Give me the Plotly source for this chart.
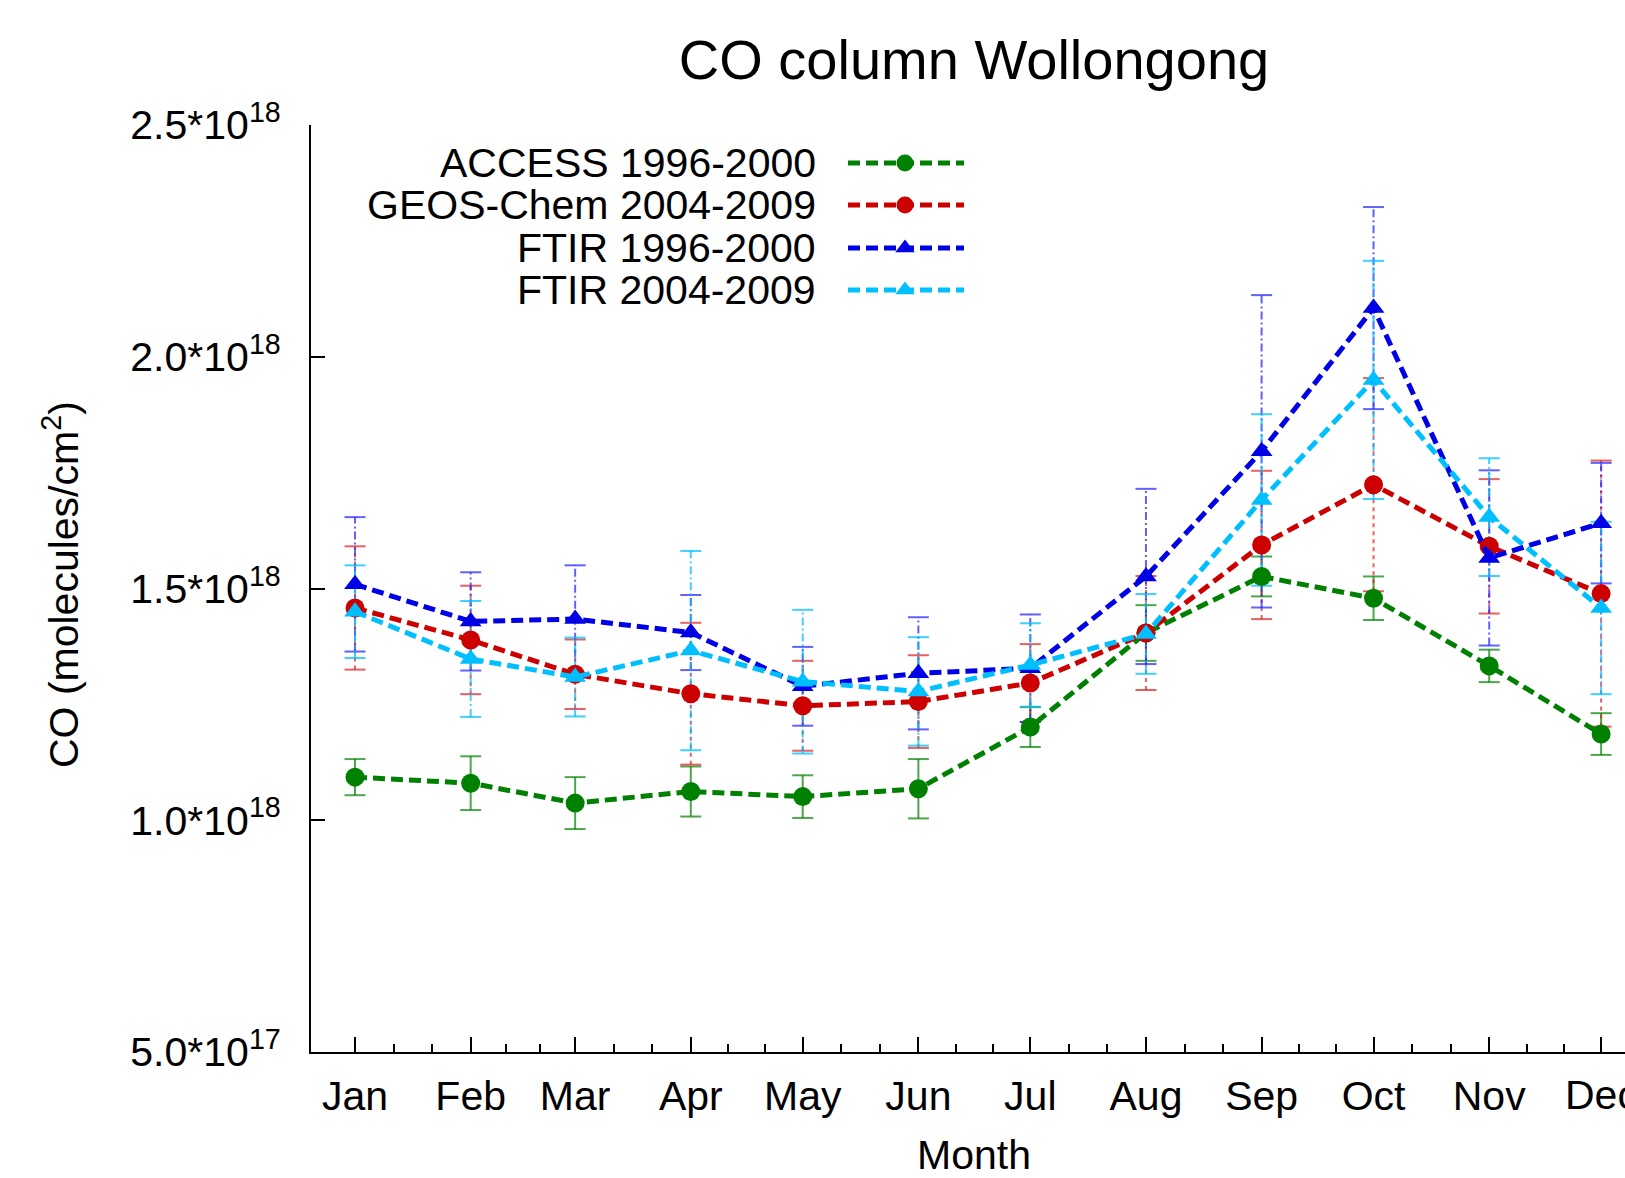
import plotly.graph_objects as go

# ---------------- data (values in 1e18 molecules/cm^2) ----------------
months = ["Jan", "Feb", "Mar", "Apr", "May", "Jun", "Jul", "Aug", "Sep", "Oct", "Nov", "Dec"]
days = [15, 46, 74, 105, 135, 166, 196, 227, 258, 288, 319, 349]

access = [1.093, 1.080, 1.037, 1.062, 1.051, 1.068, 1.201, 1.404, 1.526, 1.479, 1.333, 1.186]
access_err = [0.039, 0.058, 0.056, 0.054, 0.046, 0.064, 0.043, 0.060, 0.043, 0.047, 0.035, 0.045]

geos = [1.458, 1.389, 1.315, 1.273, 1.247, 1.256, 1.296, 1.404, 1.594, 1.724, 1.591, 1.489]
geos_err = [0.133, 0.117, 0.075, 0.153, 0.097, 0.100, 0.084, 0.123, 0.160, 0.230, 0.145, 0.287]

ftir96 = [1.509, 1.429, 1.434, 1.405, 1.289, 1.317, 1.328, 1.526, 1.796, 2.105, 1.566, 1.641]
ftir96_err = [0.145, 0.106, 0.116, 0.081, 0.085, 0.121, 0.116, 0.189, 0.337, 0.218, 0.189, 0.130]

ftir04 = [1.450, 1.348, 1.309, 1.366, 1.299, 1.278, 1.335, 1.402, 1.691, 1.950, 1.654, 1.458]
ftir04_err = [0.100, 0.125, 0.085, 0.215, 0.155, 0.117, 0.090, 0.086, 0.185, 0.257, 0.127, 0.186]

ytick_vals = [0.5, 1.0, 1.5, 2.0, 2.5]
ytick_text = ["5.0*10<sup>17</sup>", "1.0*10<sup>18</sup>", "1.5*10<sup>18</sup>",
              "2.0*10<sup>18</sup>", "2.5*10<sup>18</sup>"]

SCALE = 1e18
FONT = "Liberation Sans, Arial, Helvetica, sans-serif"

series = [
    dict(name="ACCESS 1996-2000", y=access, e=access_err, color="rgb(0,128,0)",
         ecolor="rgba(0,128,0,0.7)", edash="solid", symbol="circle", size=19),
    dict(name="GEOS-Chem 2004-2009", y=geos, e=geos_err, color="rgb(204,0,0)",
         ecolor="rgba(220,30,30,0.7)", edash="4px,4px", symbol="circle", size=19),
    dict(name="FTIR 1996-2000", y=ftir96, e=ftir96_err, color="rgb(0,0,230)",
         ecolor="rgba(30,30,255,0.7)", edash="8px,3px,2px,3px", symbol="triangle-up", size=19),
    dict(name="FTIR 2004-2009", y=ftir04, e=ftir04_err, color="rgb(0,191,255)",
         ecolor="rgba(0,191,255,0.75)", edash="8px,3px,2px,3px", symbol="triangle-up", size=19),
]

fig = go.Figure()

# error bars (vertical dashed segments + caps)
for s in series:
    xs, ys = [], []
    caps_x, caps_y = [], []
    for d, v, e in zip(days, s["y"], s["e"]):
        xs += [d, d, None]
        ys += [(v - e) * SCALE, (v + e) * SCALE, None]
        caps_x += [d, d]
        caps_y += [(v - e) * SCALE, (v + e) * SCALE]
    fig.add_trace(go.Scatter(x=xs, y=ys, mode="lines", showlegend=False, hoverinfo="skip",
                             line=dict(color=s["ecolor"], width=2, dash=s["edash"])))
    fig.add_trace(go.Scatter(x=caps_x, y=caps_y, mode="markers", showlegend=False, hoverinfo="skip",
                             cliponaxis=False,
                             marker=dict(symbol="line-ew", size=15,
                                         line=dict(color=s["ecolor"], width=2))))

# main lines
for s in series:
    fig.add_trace(go.Scatter(x=days, y=[v * SCALE for v in s["y"]], mode="lines+markers",
                             name=s["name"], showlegend=False, cliponaxis=False,
                             line=dict(color=s["color"], width=5, dash="12px,6px"),
                             marker=dict(symbol=s["symbol"], size=s["size"], color=s["color"])))

# manual legend (text right-aligned, sample to the right) on a pixel overlay axis
PL, PR, PT, PB = 311, 1625, 125, 1052
leg_rows = [163, 205, 248, 290]
leg_text_right = 818
leg_line = (848, 964)
leg_marker_x = 905
for s, ry in zip(series, leg_rows):
    fig.add_trace(go.Scatter(x=list(leg_line), y=[ry, ry], mode="lines", xaxis="x2", yaxis="y2",
                             showlegend=False, hoverinfo="skip",
                             line=dict(color=s["color"], width=5, dash="12px,6px")))
    fig.add_trace(go.Scatter(x=[leg_marker_x], y=[ry], mode="markers", xaxis="x2", yaxis="y2",
                             showlegend=False, hoverinfo="skip", cliponaxis=False,
                             marker=dict(symbol=s["symbol"], size=s["size"] - 2, color=s["color"])))
    fig.add_annotation(x=leg_text_right, y=ry, xref="x2", yref="y2", text=s["name"],
                       showarrow=False, xanchor="right", yanchor="middle",
                       font=dict(size=41, color="black", family=FONT))

# minor ticks at thirds between month ticks
minor_vals = []
for a, b in zip(days[:-1], days[1:]):
    minor_vals += [a + (b - a) / 3, a + 2 * (b - a) / 3]

W, H = 1625, 1178
fig.update_layout(
    template="none",
    width=W, height=H,
    margin=dict(l=PL, r=W - PR, t=PT, b=H - PB, pad=0),
    paper_bgcolor="white", plot_bgcolor="white",
    font=dict(family=FONT, size=41, color="black"),
    showlegend=False,
    title=dict(text="CO column Wollongong", xref="container", yref="container",
               x=974 / W, y=1 - 59 / H, xanchor="center", yanchor="middle",
               font=dict(size=56, family=FONT, color="black")),
    xaxis=dict(range=[3.2, 355.4], tickmode="array", tickvals=days, ticktext=months,
               ticks="inside", ticklen=15, tickwidth=1.5, tickcolor="black",
               showline=True, linecolor="black", linewidth=2, mirror=False,
               showgrid=False, zeroline=False, automargin=False,
               ticklabelstandoff=7,
               tickfont=dict(size=41, family=FONT, color="black"),
               minor=dict(tickmode="array", tickvals=minor_vals, ticks="inside",
                          ticklen=8, tickwidth=1.5, tickcolor="black", showgrid=False)),
    yaxis=dict(range=[0.5 * SCALE, 2.5 * SCALE], tickmode="array",
               tickvals=[v * SCALE for v in ytick_vals], ticktext=ytick_text,
               ticks="inside", ticklen=14, tickwidth=1.5, tickcolor="black",
               showline=True, linecolor="black", linewidth=2, mirror=False,
               showgrid=False, zeroline=False, automargin=False,
               ticklabelstandoff=20,
               tickfont=dict(size=41, family=FONT, color="black")),
    xaxis2=dict(overlaying="x", range=[PL, PR], visible=False, fixedrange=True),
    yaxis2=dict(overlaying="y", range=[PB, PT], visible=False, fixedrange=True),
)

# last month label, partly cut off by the right edge as in the original
fig.add_annotation(x=days[-1], y=0, xref="x", yref="paper", yshift=-43,
                   text=months[-1], showarrow=False, xanchor="center", yanchor="middle",
                   font=dict(size=41, family=FONT, color="black"))

fig.add_annotation(x=(61 - PL) / (PR - PL), y=(PB - 585) / (PB - PT), xref="paper", yref="paper",
                   text="CO (molecules/cm<sup>2</sup>)", textangle=-90, showarrow=False,
                   xanchor="center", yanchor="middle",
                   font=dict(size=41, family=FONT, color="black"))
fig.add_annotation(x=(974 - PL) / (PR - PL), y=(PB - 1155) / (PB - PT), xref="paper", yref="paper",
                   text="Month", showarrow=False, xanchor="center", yanchor="middle",
                   font=dict(size=41, family=FONT, color="black"))

fig.write_html("out.html")
